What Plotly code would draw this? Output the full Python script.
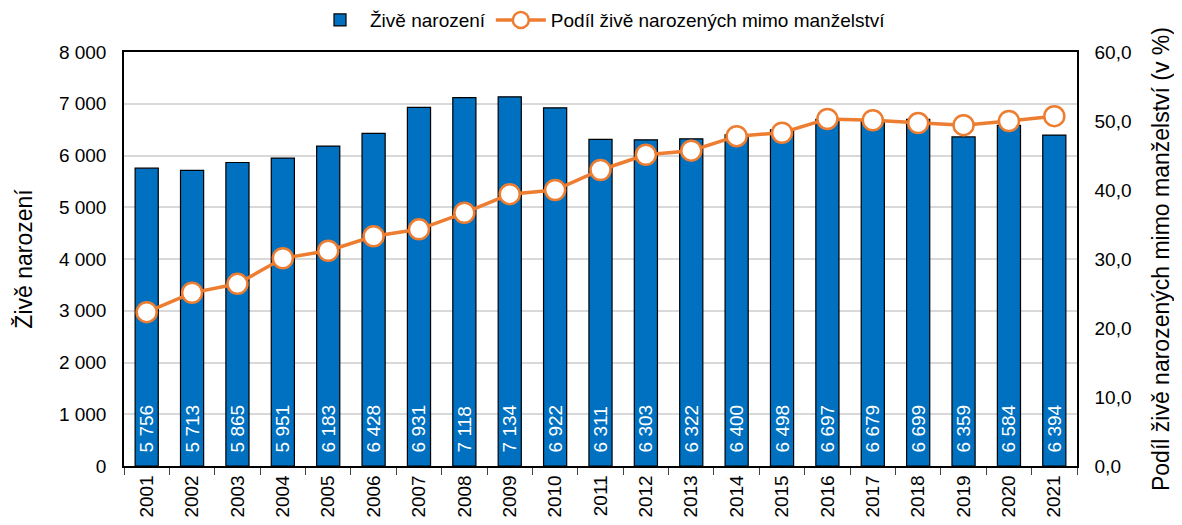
import plotly.graph_objects as go

years = [str(y) for y in range(2001, 2022)]
births = [5756, 5713, 5865, 5951, 6183, 6428, 6931, 7118, 7134, 6922, 6311,
          6303, 6322, 6400, 6498, 6697, 6679, 6699, 6359, 6584, 6394]
share_outside = [22.3, 25.1, 26.4, 30.1, 31.2, 33.3, 34.3, 36.7, 39.4, 40.0, 42.9,
                 45.1, 45.7, 47.8, 48.3, 50.3, 50.1, 49.7, 49.4, 50.0, 50.7]

font = 'Liberation Sans, Arial, sans-serif'

fig = go.Figure()
fig.add_trace(go.Bar(
    name='Živě narození', x=years, y=births,
    marker=dict(color='#0070C0', line=dict(color='black', width=1.2)),
    texttemplate='\u00a0\u00a0%{y:,d}', textposition='inside', insidetextanchor='start',
    textangle=-90, textfont=dict(color='white', size=19, family=font),
))
fig.add_trace(go.Scatter(
    name='Podíl živě narozených mimo manželství', x=years, y=share_outside,
    yaxis='y2', mode='lines+markers',
    line=dict(color='#ED7D31', width=3.5),
    marker=dict(size=20, color='white', line=dict(color='#ED7D31', width=2.5)),
))

# page body adds an 8px offset, so the figure is slightly smaller than the window
fig.update_layout(
    width=1174, height=517,
    margin=dict(l=116, r=105, t=44, b=59, autoexpand=False),
    plot_bgcolor='white', paper_bgcolor='white',
    font=dict(family=font, size=19, color='black'),
    separators=', ',
    bargap=0.49,
    uniformtext=dict(minsize=19, mode='show'),
    showlegend=True,
    legend=dict(orientation='h', x=0.5, xanchor='center', y=1.077, yanchor='middle',
                bgcolor='rgba(0,0,0,0)', font=dict(size=19), traceorder='normal',
                itemwidth=50),
    xaxis=dict(type='category', range=[-0.5, 20.5], tickangle=-90, ticks='outside',
               tickson='boundaries', ticklen=7, showline=True, linecolor='black',
               linewidth=1.5, mirror=True, tickfont=dict(size=19), automargin=False),
    yaxis=dict(range=[0, 8000], dtick=1000, tickformat=',d', showgrid=True,
               gridcolor='#D9D9D9', gridwidth=1.5, showline=True, linecolor='black',
               linewidth=1.5, ticks='', ticklabelstandoff=12,
               title=dict(text='Živě narození', standoff=20),
               tickfont=dict(size=19), automargin=False),
    yaxis2=dict(range=[0, 60], dtick=10, tickformat='.1f', overlaying='y', side='right',
                showgrid=False, showline=True, linecolor='black', linewidth=1.5,
                ticklabelstandoff=12,
                title=dict(text='Podíl živě narozených mimo manželství (v %)', standoff=22),
                tickfont=dict(size=19), automargin=False),
)

fig.write_html('out.html')
